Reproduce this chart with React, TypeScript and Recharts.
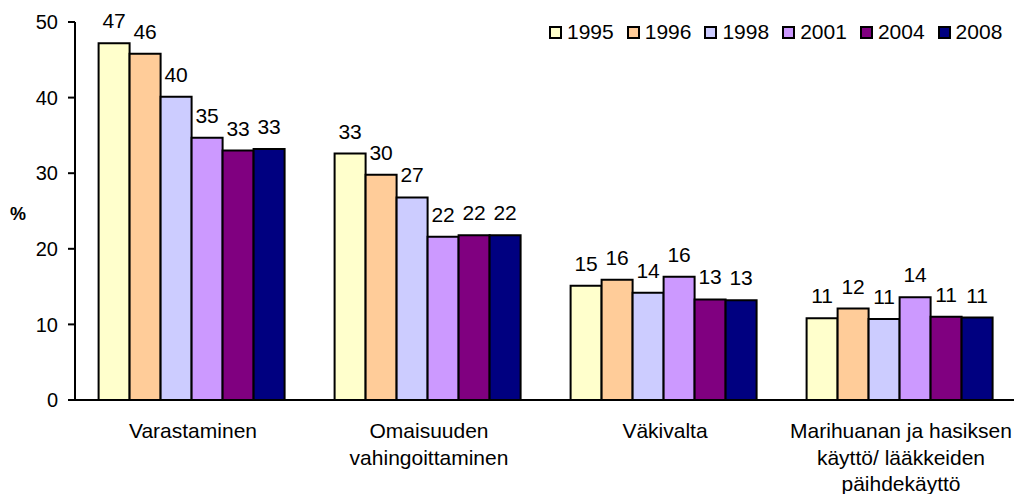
import React from 'react';
import { BarChart, Bar, XAxis, YAxis, Legend, LabelList } from 'recharts';

const categories = [
  'Varastaminen',
  'Omaisuuden\nvahingoittaminen',
  'Väkivalta',
  'Marihuanan ja hasiksen\nkäyttö/ lääkkeiden\npäihdekäyttö',
];
const years = ['1995', '1996', '1998', '2001', '2004', '2008'];
const s1995 = [47.2, 32.6, 15.1, 10.8];
const s1996 = [45.8, 29.8, 15.9, 12.1];
const s1998 = [40.1, 26.8, 14.2, 10.7];
const s2001 = [34.7, 21.6, 16.3, 13.6];
const s2004 = [33.0, 21.8, 13.3, 11.0];
const s2008 = [33.2, 21.8, 13.2, 10.9];
const yTicks = [0, 10, 20, 30, 40, 50];

const colors = ['#FFFFCC', '#FFCC99', '#CCCCFF', '#CC99FF', '#800080', '#000080'];
const seriesValues = [s1995, s1996, s1998, s2001, s2004, s2008];

const data = categories.map((c, i) => {
  const row: any = { name: c };
  years.forEach((y, j) => {
    row[y] = seriesValues[j][i];
  });
  return row;
});

const FONT = '"Liberation Sans", Arial, sans-serif';

const CategoryTick = (props: any) => {
  const { x, y, payload } = props;
  const lines = String(payload.value).split('\n');
  return (
    <text x={x} y={y} textAnchor="middle" fontFamily={FONT} fontSize={21} fill="#000">
      {lines.map((l, i) => (
        <tspan key={i} x={x} dy={i === 0 ? 38 : 26.5}>
          {l}
        </tspan>
      ))}
    </text>
  );
};

const LegendContent = () => (
  <div style={{ display: 'flex', flexDirection: 'row', fontFamily: FONT, fontSize: 21, color: '#000' }}>
    {years.map((y, i) => (
      <div key={y} style={{ display: 'flex', alignItems: 'center', marginRight: 13 }}>
        <span
          style={{
            display: 'inline-block',
            width: 9,
            height: 9,
            background: colors[i],
            border: '2px solid #000',
            marginRight: 5,
          }}
        />
        <span style={{ lineHeight: '24px' }}>{y}</span>
      </div>
    ))}
  </div>
);

export default function App() {
  return (
    <div style={{ position: 'absolute', left: 0, top: 0, width: 1014, height: 494, overflow: 'hidden', background: '#fff' }}>
      <BarChart
        width={1020}
        height={494}
        data={data}
        margin={{ top: 22, right: 1, bottom: 0, left: 0 }}
        barCategoryGap="10%"
        barGap={0}
      >
        <XAxis
          dataKey="name"
          axisLine={{ stroke: '#000', strokeWidth: 2 }}
          tickLine={false}
          tickSize={0}
          tickMargin={0}
          height={94}
          interval={0}
          tick={<CategoryTick />}
        />
        <YAxis
          width={75}
          domain={[0, 50]}
          ticks={yTicks}
          interval={0}
          axisLine={{ stroke: '#000', strokeWidth: 2 }}
          tickLine={{ stroke: '#000', strokeWidth: 2 }}
          tickSize={7}
          tickMargin={10}
          tick={{ fill: '#000', fontFamily: FONT, fontSize: 20 }}
          label={{
            value: '%',
            position: 'insideLeft',
            offset: 10,
            dy: 3,
            style: { fontFamily: FONT, fontSize: 18, fontWeight: 'bold', fill: '#000' },
          }}
        />
        <Legend
          layout="horizontal"
          verticalAlign="middle"
          align="center"
          content={<LegendContent />}
          wrapperStyle={{ top: 20, left: 549, width: 480, height: 24 }}
        />
        {years.map((y, i) => (
          <Bar key={y} dataKey={y} fill={colors[i]} stroke="#000" strokeWidth={2} isAnimationActive={false}>
            <LabelList
              dataKey={y}
              position="top"
              offset={15}
              formatter={(v: any) => Math.round(Number(v))}
              style={{ fontFamily: FONT, fontSize: 21, fill: '#000' }}
            />
          </Bar>
        ))}
      </BarChart>
    </div>
  );
}
